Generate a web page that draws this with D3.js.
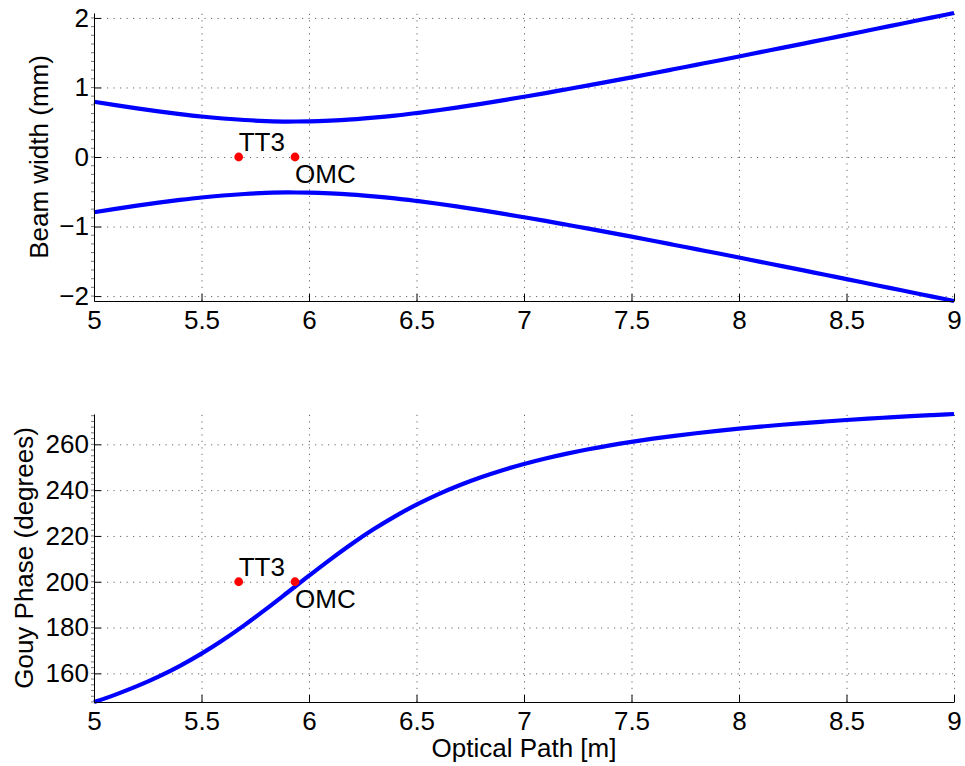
<!DOCTYPE html>
<html lang="en">
<head>
    <meta charset="UTF-8">
    <script src="https://cdn.jsdelivr.net/npm/d3@7"></script>
    <style>
        body { margin: 0; background: #fff; }
        text { font-family: "Liberation Sans", Arial, sans-serif; }
        .grid line { stroke: #666; stroke-dasharray: 1.2,5.3; }
        .grid path { display: none; }
        .beam { fill: none; stroke: #0000ff; stroke-width: 4.2; }
    </style>
    <title>Beam width and Gouy phase</title>
</head>
<body>
    <svg height="766" width="965"></svg>
    <script>
        // optical path positions (m), read every 0.1 m
        var zPos = [5.0, 5.1, 5.2, 5.3, 5.4, 5.5, 5.6, 5.7, 5.8, 5.9,
                    6.0, 6.1, 6.2, 6.3, 6.4, 6.5, 6.6, 6.7, 6.8, 6.9,
                    7.0, 7.1, 7.2, 7.3, 7.4, 7.5, 7.6, 7.7, 7.8, 7.9,
                    8.0, 8.1, 8.2, 8.3, 8.4, 8.5, 8.6, 8.7, 8.8, 8.9, 9.0];
        // beam radius (mm)
        var beamWidth = [0.794, 0.745, 0.699, 0.656, 0.617, 0.582, 0.554, 0.532, 0.517, 0.510,
                         0.512, 0.522, 0.540, 0.565, 0.595, 0.632, 0.672, 0.717, 0.764, 0.814,
                         0.866, 0.919, 0.975, 1.031, 1.088, 1.146, 1.205, 1.265, 1.325, 1.385,
                         1.446, 1.508, 1.569, 1.631, 1.694, 1.756, 1.819, 1.882, 1.945, 2.008, 2.071];
        // Gouy phase (degrees)
        var gouyPhase = [147.49, 150.72, 154.40, 158.57, 163.30, 168.63, 174.57, 181.07, 188.04, 195.30,
                         202.63, 209.79, 216.60, 222.88, 228.57, 233.66, 238.16, 242.13, 245.62, 248.70,
                         251.41, 253.81, 255.94, 257.84, 259.55, 261.08, 262.47, 263.72, 264.85, 265.90,
                         266.85, 267.73, 268.54, 269.28, 269.97, 270.62, 271.22, 271.77, 272.30, 272.79, 273.24];
        // optics markers
        var opticNames = ["TT3", "OMC"];
        var opticPos = [5.673, 5.935];
        var markerWidth = [0, 0];
        var markerPhase = [200, 200];

        var xTicks = [5, 5.5, 6, 6.5, 7, 7.5, 8, 8.5, 9];
        var widthTicks = [-2, -1, 0, 1, 2];
        var phaseTicks = [160, 180, 200, 220, 240, 260];

        var svg = d3.select("svg");
        var left = 94, right = 954, plotW = right - left, plotH = 288;
        var fontSize = "26px";
        var minus = function(d){ return d < 0 ? "\u2212" + Math.abs(d) : String(d); };

        var xScale = d3.scaleLinear().domain([5, 9]).range([0, plotW]);

        function panel(top, yVals, yTicks, markY, labelText, labelX, minorStep) {
            var g = svg.append("g").attr("transform", "translate(" + left + "," + top + ")");
            var ext = d3.extent(yVals);
            var yScale = d3.scaleLinear().domain(ext).range([plotH, 0]);

            // dotted grid
            g.append("g").attr("class", "grid")
                .attr("transform", "translate(0," + plotH + ")")
                .call(d3.axisBottom(xScale).tickValues(xTicks).tickSize(-plotH).tickFormat(""));
            g.append("g").attr("class", "grid")
                .call(d3.axisLeft(yScale).tickValues(yTicks).tickSize(-plotW).tickFormat(""));

            // small minor marks on the y axis
            var minors = d3.range(Math.ceil(ext[0] / minorStep), Math.floor(ext[1] / minorStep) + 1)
                .map(function(k){ return k * minorStep; });
            g.selectAll(".minor").data(minors).enter().append("line")
                .attr("x1", -3).attr("x2", 0)
                .attr("y1", function(d){ return yScale(d); })
                .attr("y2", function(d){ return yScale(d); })
                .attr("stroke", "#777").attr("stroke-width", 1);

            var line = d3.line()
                .x(function(d, i){ return xScale(zPos[i]); })
                .y(function(d){ return yScale(d); })
                .curve(d3.curveMonotoneX);
            return {g: g, y: yScale, line: line, finish: function() {
                var xa = g.append("g").attr("transform", "translate(0," + plotH + ")")
                    .call(d3.axisBottom(xScale).tickValues(xTicks).tickSize(-7).tickSizeOuter(0)
                        .tickPadding(10).tickFormat(function(d){ return String(d); }));
                var ya = g.append("g")
                    .call(d3.axisLeft(yScale).tickValues(yTicks).tickSize(-7).tickSizeOuter(0)
                        .tickPadding(5).tickFormat(minus));
                [xa, ya].forEach(function(a){
                    a.selectAll("text").attr("font-size", fontSize).attr("fill", "#000")
                        .style("font-family", "'Liberation Sans', Arial, sans-serif");
                    a.selectAll("line, path").attr("stroke", "#000");
                });

                // markers and labels
                opticNames.forEach(function(name, i){
                    var cx = xScale(opticPos[i]), cy = yScale(markY[i]);
                    g.append("circle").attr("cx", cx).attr("cy", cy).attr("r", 4.4).attr("fill", "#ff0000");
                    g.append("text").attr("x", cx).attr("y", cy + (i === 0 ? -6 : 26))
                        .attr("font-size", fontSize).text(name);
                });

                svg.append("text")
                    .attr("transform", "translate(" + labelX + "," + (top + plotH / 2) + ") rotate(-90)")
                    .attr("text-anchor", "middle")
                    .attr("font-size", fontSize)
                    .text(labelText);
            }};
        }

        // top: beam envelope
        var p1 = panel(13, beamWidth.concat(beamWidth.map(function(d){ return -d; })),
            widthTicks, markerWidth, "Beam width (mm)", 48, 0.125);
        p1.g.append("path").datum(beamWidth).attr("class", "beam").attr("d", p1.line);
        p1.g.append("path").datum(beamWidth.map(function(d){ return -d; })).attr("class", "beam").attr("d", p1.line);
        p1.finish();

        // bottom: Gouy phase
        var p2 = panel(414, gouyPhase, phaseTicks, markerPhase, "Gouy Phase (degrees)", 33, 2.5);
        p2.g.append("path").datum(gouyPhase).attr("class", "beam").attr("d", p2.line);
        p2.finish();

        svg.append("text")
            .attr("x", left + plotW / 2).attr("y", 757)
            .attr("text-anchor", "middle")
            .attr("font-size", fontSize)
            .text("Optical Path [m]");
    </script>
</body>
</html>
